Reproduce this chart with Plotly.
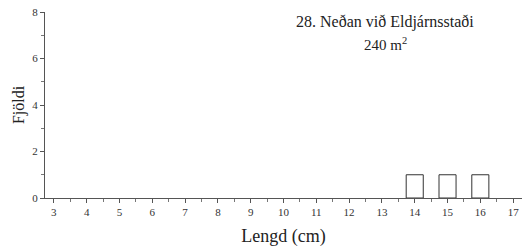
import plotly.graph_objects as go

lengths = [3, 4, 5, 6, 7, 8, 9, 10, 11, 12, 13, 14, 15, 16, 17]
counts = [0, 0, 0, 0, 0, 0, 0, 0, 0, 0, 0, 1, 1, 1, 0]
x_ticks = [3, 4, 5, 6, 7, 8, 9, 10, 11, 12, 13, 14, 15, 16, 17]
y_ticks = [0, 2, 4, 6, 8]

line_widths = [1 if c > 0 else 0 for c in counts]

fig = go.Figure()
fig.add_trace(go.Bar(
    x=lengths, y=counts, width=0.52,
    marker=dict(color="white", line=dict(color="#333333", width=line_widths)),
))

font = "Liberation Serif, Times New Roman, serif"
W, H = 522, 250
L, R, T, B = 45, 0, 12, 52
fig.update_layout(
    width=W, height=H,
    margin=dict(l=L, r=R, t=T, b=B),
    paper_bgcolor="white", plot_bgcolor="white",
    showlegend=False,
    font=dict(family=font, color="#333333", size=11),
    xaxis=dict(
        range=[2.73, 17.27], tickvals=x_ticks, showgrid=False, zeroline=False,
        showline=True, linecolor="#555555", linewidth=1,
        ticks="outside", ticklen=4, tickcolor="#555555",
        ticklabeloverflow="allow",
        minor=dict(dtick=0.5, tick0=2.5, ticks="outside", ticklen=3, tickcolor="#777777"),
        title=dict(text="Lengd (cm)", font=dict(size=18, family=font, color="#222222"), standoff=12),
        tickfont=dict(size=11),
    ),
    yaxis=dict(
        range=[0, 8], tickvals=y_ticks, showgrid=False, zeroline=False,
        showline=True, linecolor="#555555", linewidth=1,
        ticks="outside", ticklen=4, tickcolor="#555555",
        ticklabeloverflow="allow",
        minor=dict(dtick=1, ticks="outside", ticklen=3, tickcolor="#777777"),
        title=dict(text="Fjöldi", font=dict(size=16, family=font, color="#222222"), standoff=3),
        tickfont=dict(size=11),
    ),
)
pw = W - L - R
ph = H - T - B
fig.add_annotation(x=(385 - L) / pw, y=(198 - 22) / ph, xref="paper", yref="paper",
                   text="28. Neðan við Eldjárnsstaði", showarrow=False,
                   xanchor="center", yanchor="middle",
                   font=dict(size=16, family=font, color="#222222"))
fig.add_annotation(x=(385 - L) / pw, y=(198 - 44) / ph, xref="paper", yref="paper",
                   text="240 m<sup>2</sup>", showarrow=False,
                   xanchor="center", yanchor="middle",
                   font=dict(size=15, family=font, color="#222222"))

fig.write_html("out.html",
               config={"displayModeBar": False},
               post_script="document.body.style.margin='0';document.body.style.overflow='hidden';")
